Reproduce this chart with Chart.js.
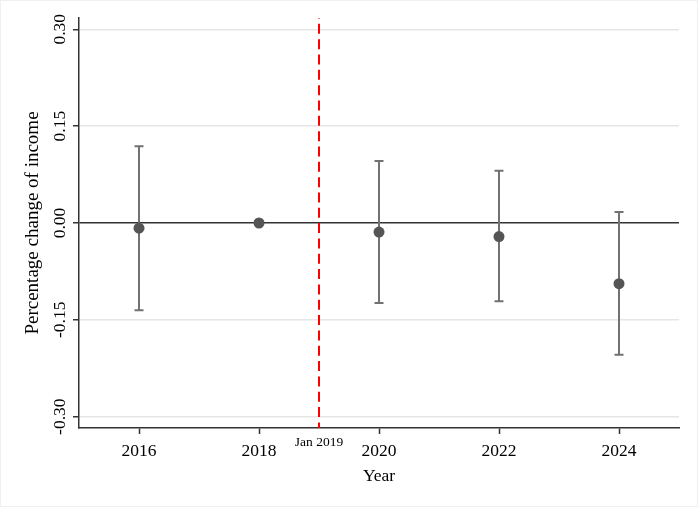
<!DOCTYPE html>
<html>
<head>
<meta charset="utf-8">
<script src="https://cdn.jsdelivr.net/npm/chart.js@4/dist/chart.umd.min.js"></script>
<style>
  html, body { margin: 0; padding: 0; background: #ffffff; }
  #wrap { width: 698px; height: 507px; }
</style>
</head>
<body>
<div id="wrap"><canvas id="c" width="698" height="507"></canvas></div>
<script>
// ---- data ----
const years = [2016, 2018, 2020, 2022, 2024];
const estimates = [-0.008, 0.000, -0.014, -0.021, -0.094];
const ciLower = [-0.135, 0.000, -0.124, -0.121, -0.204];
const ciUpper = [0.119, 0.000, 0.096, 0.081, 0.017];
const xTickValues = [2016, 2018, 2020, 2022, 2024];
const yTickValues = [-0.30, -0.15, 0.00, 0.15, 0.30];
const yTickLabels = ['-0.30', '-0.15', '0.00', '0.15', '0.30'];
const eventYear = 2019;
const eventLabel = 'Jan 2019';
const xTitle = 'Year';
const yTitle = 'Percentage change of income';

const SERIF = '"Liberation Serif", "Times New Roman", serif';

const extras = {
  id: 'extras',
  beforeDatasetsDraw(chart) {
    const {ctx, chartArea, scales: {x, y}} = chart;
    ctx.save();
    // event line
    const ex = x.getPixelForValue(eventYear);
    ctx.strokeStyle = '#ff0000';
    ctx.lineWidth = 2;
    ctx.setLineDash([10, 5.33]);
    ctx.lineDashOffset = 9.5;
    ctx.beginPath();
    ctx.moveTo(ex, chartArea.top);
    ctx.lineTo(ex, chartArea.bottom);
    ctx.stroke();
    ctx.setLineDash([]);
    // error bars
    ctx.strokeStyle = '#727272';
    ctx.lineWidth = 2;
    for (let i = 0; i < years.length; i++) {
      if (ciLower[i] === ciUpper[i]) continue;
      const px = x.getPixelForValue(years[i]);
      const lo = y.getPixelForValue(ciLower[i]);
      const hi = y.getPixelForValue(ciUpper[i]);
      ctx.beginPath();
      ctx.moveTo(px, lo); ctx.lineTo(px, hi);
      ctx.moveTo(px - 4.5, lo); ctx.lineTo(px + 4.5, lo);
      ctx.moveTo(px - 4.5, hi); ctx.lineTo(px + 4.5, hi);
      ctx.stroke();
    }
    ctx.restore();
  },
  afterDraw(chart) {
    const {ctx, chartArea, scales: {x, y}} = chart;
    ctx.save();
    // y tick labels, rotated
    ctx.fillStyle = '#000';
    ctx.font = '17.5px ' + SERIF;
    ctx.textAlign = 'center';
    ctx.textBaseline = 'middle';
    yTickValues.forEach((v, i) => {
      const py = y.getPixelForValue(v);
      ctx.save();
      ctx.translate(60, py);
      ctx.rotate(-Math.PI / 2);
      ctx.fillText(yTickLabels[i], 0, 0);
      ctx.restore();
    });
    // event label
    ctx.font = '13.5px ' + SERIF;
    ctx.fillText(eventLabel, x.getPixelForValue(eventYear), 442);
    // faint outer border
    ctx.strokeStyle = '#f0f0f0';
    ctx.lineWidth = 1;
    ctx.strokeRect(0.5, 0.5, 697, 506);
    ctx.restore();
  }
};

new Chart(document.getElementById('c'), {
  type: 'scatter',
  data: {
    datasets: [{
      data: years.map((yr, i) => ({x: yr, y: estimates[i]})),
      pointRadius: 5.5,
      pointHoverRadius: 5.5,
      backgroundColor: '#555555',
      borderWidth: 0
    }]
  },
  options: {
    responsive: false,
    animation: false,
    devicePixelRatio: 1,
    layout: { padding: { top: 18, right: 19, left: 0, bottom: 0 } },
    plugins: { legend: { display: false }, tooltip: { enabled: false } },
    scales: {
      x: {
        type: 'linear',
        min: 2015, max: 2025,
        afterBuildTicks: (s) => { s.ticks = xTickValues.map(v => ({value: v})); },
        afterFit: (s) => { s.height = 79; },
        grid: { drawOnChartArea: false, drawTicks: true, tickLength: 6, tickColor: '#333', tickWidth: 1.5 },
        border: { display: true, color: '#333', width: 1.5 },
        ticks: {
          color: '#000', font: { family: SERIF, size: 17.5 }, padding: 7,
          maxRotation: 0, minRotation: 0,
          callback: (v) => String(v)
        },
        title: { display: true, text: xTitle, color: '#000', font: { family: SERIF, size: 17.5 }, padding: { top: 0, bottom: 20.5 } }
      },
      y: {
        min: -0.3175, max: 0.3175,
        afterBuildTicks: (s) => { s.ticks = yTickValues.map(v => ({value: v})); },
        afterFit: (s) => { s.width = 79; },
        grid: {
          drawOnChartArea: true, drawTicks: true, tickLength: 6,
          color: (c) => (c.tick && c.tick.value === 0 ? '#333333' : '#e6e6e6'),
          lineWidth: (c) => (c.tick && c.tick.value === 0 ? 1.5 : 1.5),
          tickColor: '#333', tickWidth: 1.5
        },
        border: { display: true, color: '#333', width: 1.5 },
        ticks: { display: false },
        title: { display: true, text: yTitle, color: '#000', font: { family: SERIF, size: 19 }, padding: { top: 21.6, bottom: 0 } }
      }
    }
  },
  plugins: [extras]
});
</script>
</body>
</html>
